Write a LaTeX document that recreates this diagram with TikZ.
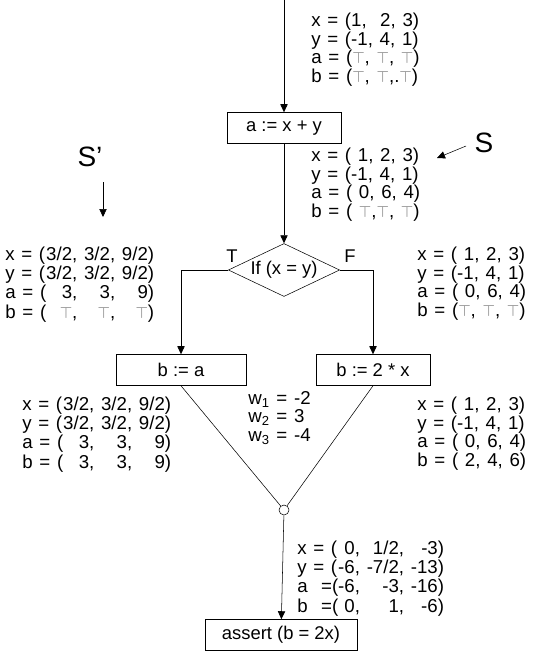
\documentclass[tikz,border=0pt]{standalone}
\usepackage{fontspec}
\setmainfont{Liberation Sans}
\newfontfamily\valfont{Liberation Sans}[WordSpace=1.3]
\usetikzlibrary{arrows.meta,shapes.geometric}
\newcommand{\tp}{{\color{black!55}\fontsize{11.5}{11.5}\selectfont$\top$}}

\begin{document}
\begin{tikzpicture}[x=0.75pt,y=-0.75pt,
  >={Triangle[length=6pt,width=5.5pt]},
  box/.style={draw,minimum height=23.25pt,inner sep=0pt},
  vals/.style={align=left,anchor=north west,inner sep=0pt,
    font=\fontsize{14}{13.9}\valfont},
  every node/.style={font=\fontsize{13.8}{13.9}\selectfont}]
\useasboundingbox (0,0) rectangle (533,657);
% statements
\coordinate (start) at (284,0);
\node[box,minimum width=85.5pt] (asum) at (284,128) {a := x + y};
\node[draw,diamond,aspect=2.1,inner sep=1pt,minimum width=81.75pt,minimum height=39pt] (test) at (284,270) {If (x = y)};
\node[box,minimum width=97.5pt] (bcopy) at (181,370) {b := a};
\node[box,minimum width=85.5pt] (bdbl) at (373,370) {b := 2 * x};
\node[draw,circle,inner sep=0pt,minimum size=7.5pt] (join) at (284,510) {};
\node[box,minimum width=114pt] (check) at (281,635) {assert (b = 2x)};
\node (tl) at (232,256) {T};
\node (fl) at (350,256) {F};
% flow
\draw[->] (start) -- (asum);
\draw[->] (asum) -- (test);
\draw[->] (test.west) -| (bcopy.north);
\draw[->] (test.east) -| (bdbl.north);
\draw (bcopy.south) -- (join);
\draw (bdbl.south) -- (join);
\draw[->] (join) -- (check);
% S and S'
\node[font=\fontsize{21}{21}\selectfont] (s) at (484,143) {S};
\coordinate (sfrom) at (466,146);
\coordinate (sto) at (437,158);
\draw[->] (sfrom) -- (sto);
\node[font=\fontsize{21}{21}\selectfont] (sp) at (90,157) {S’};
\coordinate (spfrom) at (103,182);
\coordinate (spto) at (103,217);
\draw[->] (spfrom) -- (spto);
% values
\node[vals] (v0) at (311,13) {x = (1,\ \ 2, 3)\\y = (-1, 4, 1)\\a = (\tp, \tp, \tp)\\b = (\tp, \tp,.\tp)};
\node[vals] (v1) at (311,148) {x = ( 1, 2, 3)\\y = (-1, 4, 1)\\a = ( 0, 6, 4)\\b = ( \tp,\tp, \tp)};
\node[vals] (vt) at (5,247) {\begin{tabular}{@{}l@{}r@{, }r@{, }r@{)}}
x = ( & 3/2 & 3/2 & 9/2\\
y = ( & 3/2 & 3/2 & 9/2\\
a = ( & 3 & 3 & 9\\
b = ( & \tp & \tp & \tp
\end{tabular}};
\node[vals] (vf) at (417,247) {x = ( 1, 2, 3)\\y = (-1, 4, 1)\\a = ( 0, 6, 4)\\b = (\tp, \tp, \tp)};
\node[vals] (w) at (248,391) {w\textsubscript{1} = -2\\w\textsubscript{2} = 3\\w\textsubscript{3} = -4};
\node[vals] (vl) at (22,397) {\begin{tabular}{@{}l@{}r@{, }r@{, }r@{)}}
x = ( & 3/2 & 3/2 & 9/2\\
y = ( & 3/2 & 3/2 & 9/2\\
a = ( & 3 & 3 & 9\\
b = ( & 3 & 3 & 9
\end{tabular}};
\node[vals] (vr) at (417,397) {x = ( 1, 2, 3)\\y = (-1, 4, 1)\\a = ( 0, 6, 4)\\b = ( 2, 4, 6)};
\node[vals] (vj) at (297,541) {\begin{tabular}{@{}l@{}r@{, }r@{, }r@{)}}
x = ( & 0 & 1/2 & -3\\
y = ( & -6 & -7/2 & -13\\
a\ \ =( & -6 & -3 & -16\\
b\ \ =( & 0 & 1 & -6
\end{tabular}};
\end{tikzpicture}
\end{document}
